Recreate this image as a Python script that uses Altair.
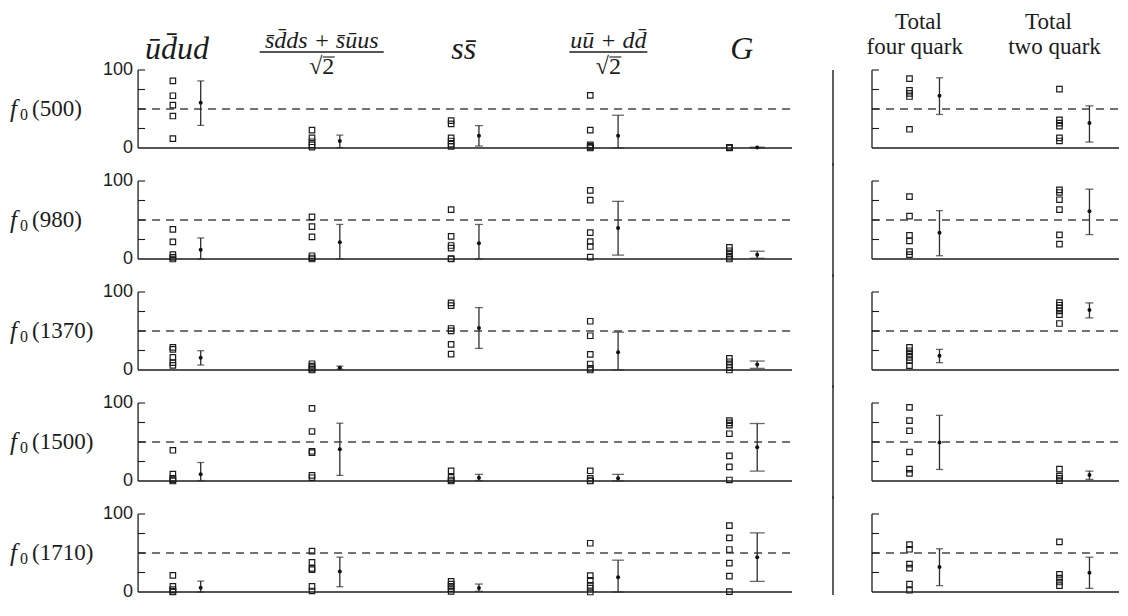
import altair as alt
import pandas as pd

rows = ["500", "980", "1370", "1500", "1710"]

# Open-square values per row, in column order:
# ud, sdds, ss, uudd, G, total four quark, total two quark
sq_500 = [[86, 67, 55, 41, 12], [23, 13, 8, 4, 1], [35, 31, 13, 9, 5, 2],
          [67.5, 23, 4, 2, 1, 0], [1, 0.5, 0], [89, 74, 70, 66, 24],
          [75.5, 36, 32, 28, 13, 9]]
sq_980 = [[38, 22, 5.5, 2, 0], [54, 41.4, 28.3, 4.2, 1.3, 0], [63.3, 29, 17.3, 13.9, 0.4, 0],
          [88, 75.4, 33.8, 22.4, 16, 2.5], [14.8, 10.6, 6.3, 2.2, 0],
          [80, 55, 30.4, 23.3, 9.4, 5.5], [88.6, 85.3, 76, 63.3, 30.9, 19]]
sq_1370 = [[29, 26.4, 16.2, 9.4, 6], [8, 5, 3, 1, 0], [86, 82.5, 53.2, 50.2, 32.8, 20.4],
           [62.5, 43.9, 20, 7.7, 2, 0], [15, 10.6, 6.4, 3, 0],
           [29, 24.7, 20.4, 16.2, 12, 5.6], [86.4, 83, 79.6, 75.8, 71, 59.6]]
sq_1500 = [[39.4, 8.9, 3.4, 1.3, 0], [93.2, 63.5, 38.1, 36.4, 7.2, 4.2], [13.1, 4.7, 1.3, 0],
           [13.1, 3.5, 0.6, 0], [77.5, 74.6, 71.6, 60.6, 32.2, 18.2, 1.3],
           [94.4, 77.5, 64.4, 37.2, 15.2, 9.8], [15.2, 6.3, 3.4, 0.4]]
sq_1710 = [[21.3, 7.3, 3, 0.9, 0], [52.3, 37.9, 30.2, 28.6, 7.3, 1.3], [13.6, 10.2, 7.3, 4.3, 0.9],
           [62.5, 20.9, 14.9, 8.5, 5.1, 0], [85, 69.4, 54.5, 37, 20.4, 0.5],
           [60.8, 54.8, 35.7, 30.6, 10.2, 2.2], [64.3, 22.6, 17.9, 12.8, 8.2]]

# Mean with error bar per row: (mean, low, high)
err_500 = [(58, 29, 86), (9, 0.5, 16.5), (15.6, 2.5, 28.7), (15.6, 0, 42), (0.5, 0, 1),
           (67, 43, 90), (32, 7.6, 54)]
err_980 = [(11.8, 0, 27), (21.5, 0, 44.3), (20.3, 0, 44.3), (39.7, 5, 73.9), (5.5, 0.9, 10),
           (33.8, 4.2, 62), (61.3, 31.3, 89.5)]
err_1370 = [(15.7, 6.4, 24.7), (3, 1, 5), (54, 27.7, 80), (22.6, 0, 48.5), (7.2, 2.1, 11.5),
            (18.3, 9.4, 26.4), (77, 66.8, 86)]
err_1500 = [(8.5, 0.6, 23.7), (40.7, 7.2, 74.1), (4.2, 0.6, 8.5), (3.4, 0, 8.5), (43.2, 12.7, 73.7),
            (49.2, 14.8, 84.2), (7.6, 2.1, 12.7)]
err_1710 = [(5.5, 0, 14), (26.4, 6.8, 44.7), (5.1, 0.9, 10.2), (18.8, 0, 40.8), (44.6, 13.6, 75.8),
            (31.9, 8.2, 55.4), (24.7, 4.7, 44.6)]

SQ = dict(zip(rows, [sq_500, sq_980, sq_1370, sq_1500, sq_1710]))
ERR = dict(zip(rows, [err_500, err_980, err_1370, err_1500, err_1710]))

y_ticks = [25, 50, 75, 100]
y_labels = [0, 100]

plain_headers = [(0, "u\u0304d\u0304ud", 0.28), (2, "ss\u0304", 0.34), (4, "G", 0.34)]
frac_headers = [(1, "s\u0304d\u0304ds + s\u0304u\u0304us", 0.32, 124), (3, "uu\u0304 + dd\u0304", 0.38, 78)]
right_headers = [(0, "Total", "four quark", 0.31, 0.285), (1, "Total", "two quark", 0.177, 0.217)]

# ---- style / layout ----
LW, RW, H = 784, 307, 78
L_DOM = [-0.935, 4.7]
R_DOM = [-0.4, 1.647]
SQ_OFF, EB_OFF = 0.25, 0.45
CAP_PX = [7, 7, 8, 12, 15, 7, 8]
SERIF = "Liberation Serif"
SANS = "Liberation Sans"
INK = "#1c1c1c"
BAR = "#2e2e2e"
DASH = "#444444"
ROW_GAP = 33


def panel(ri, side):
    r = rows[ri]
    if side == "L":
        idx, dom, W = [0, 1, 2, 3, 4], L_DOM, LW
    else:
        idx, dom, W = [5, 6], R_DOM, RW
    ppu = W / (dom[1] - dom[0])
    xs = alt.Scale(domain=dom, nice=False, zero=False)
    ys = alt.Scale(domain=[0, 100], nice=False, zero=False)

    def X(f):
        return alt.X(f"{f}:Q", scale=xs, axis=None)

    def Y(f):
        return alt.Y(f"{f}:Q", scale=ys, axis=None)

    sq = pd.DataFrame([{"x": k + SQ_OFF, "y": v} for k, i in enumerate(idx) for v in SQ[r][i]])
    eb = pd.DataFrame([{"x": k + EB_OFF, "m": ERR[r][i][0], "lo": ERR[r][i][1],
                        "hi": ERR[r][i][2], "cap": CAP_PX[i]} for k, i in enumerate(idx)])
    frame = pd.DataFrame({"x0": [0.0], "x1": [dom[1]], "y0": [0], "y50": [50], "y100": [100]})
    tk = pd.DataFrame({"x0": 0.0, "y": y_ticks})

    layers = [
        alt.Chart(frame).mark_rule(color=DASH, strokeWidth=1.4, strokeDash=[8, 6]).encode(
            x=X("x0"), x2="x1", y=Y("y50")),
        alt.Chart(frame).mark_rule(color=INK, strokeWidth=1.3).encode(x=X("x0"), x2="x1", y=Y("y0")),
        alt.Chart(frame).mark_rule(color=INK, strokeWidth=1.3).encode(x=X("x0"), y=Y("y0"), y2="y100"),
        alt.Chart(tk).mark_rule(color=INK, strokeWidth=1.1, x2Offset=7).encode(
            x=X("x0"), x2="x0", y=Y("y")),
        alt.Chart(sq).mark_point(shape="square", filled=False, size=30, color=INK,
                                 strokeWidth=1.2, opacity=1).encode(x=X("x"), y=Y("y")),
        alt.Chart(eb).mark_rule(color=BAR, strokeWidth=1.3).encode(x=X("x"), y=Y("lo"), y2="hi"),
        alt.Chart(eb).mark_tick(orient="horizontal", thickness=1.3, color=BAR).encode(
            x=X("x"), y=Y("lo"), size=alt.Size("cap:Q", scale=None)),
        alt.Chart(eb).mark_tick(orient="horizontal", thickness=1.3, color=BAR).encode(
            x=X("x"), y=Y("hi"), size=alt.Size("cap:Q", scale=None)),
        alt.Chart(eb).mark_circle(size=16, color="#111", opacity=1).encode(x=X("x"), y=Y("m")),
    ]

    if side == "L":
        lab = pd.DataFrame({"x0": 0.0, "v": y_labels})
        layers.append(alt.Chart(lab).mark_text(align="right", baseline="middle", dx=-5,
                                               font=SANS, fontSize=18, color=INK).encode(
            x=X("x0"), y=Y("v"), text=alt.Text("v:Q", format="d")))
        rl = pd.DataFrame({"x0": [0.0], "y50": [50], "f": ["f"], "s": ["0"], "p": [f"({r})"]})
        layers += [
            alt.Chart(rl).mark_text(align="left", baseline="middle", dx=-128, font=SERIF,
                                    fontStyle="italic", fontSize=25, color=INK).encode(
                x=X("x0"), y=Y("y50"), text="f:N"),
            alt.Chart(rl).mark_text(align="left", baseline="middle", dx=-118, dy=6, font=SERIF,
                                    fontSize=16, color=INK).encode(
                x=X("x0"), y=Y("y50"), text="s:N"),
            alt.Chart(rl).mark_text(align="left", baseline="middle", dx=-106, font=SERIF,
                                    fontSize=23, color=INK).encode(
                x=X("x0"), y=Y("y50"), text="p:N"),
        ]
        if ri == 0:
            ph = pd.DataFrame([{"hx": c + o, "t": t} for c, t, o in plain_headers])
            layers.append(alt.Chart(ph).mark_text(align="center", baseline="alphabetic", font=SERIF,
                                                  fontStyle="italic", fontSize=32, color=INK).encode(
                x=X("hx"), y=alt.value(-11), text="t:N"))
            fh = pd.DataFrame([{"hx": c + o, "t": t, "a": c + o - w / 2 / ppu, "b": c + o + w / 2 / ppu,
                                "r": "\u221a2"} for c, t, o, w in frac_headers])
            layers += [
                alt.Chart(fh).mark_text(align="center", baseline="alphabetic", font=SERIF,
                                        fontStyle="italic", fontSize=24, color=INK).encode(
                    x=X("hx"), y=alt.value(-22), text="t:N"),
                alt.Chart(fh).mark_rule(color=INK, strokeWidth=1.4).encode(
                    x=X("a"), x2="b", y=alt.value(-18)),
                alt.Chart(fh).mark_text(align="center", baseline="alphabetic", font=SERIF,
                                        fontSize=24, color=INK).encode(
                    x=X("hx"), y=alt.value(4), text="r:N"),
                alt.Chart(fh).mark_rule(color=INK, strokeWidth=1.1, xOffset=1, x2Offset=13).encode(
                    x=X("hx"), x2="hx", y=alt.value(-13)),
            ]
    else:
        half = ROW_GAP / 2 + 1
        sep_top = 0 if ri == 0 else -half
        sep_bot = H + 3 if ri == len(rows) - 1 else H + half
        sp = pd.DataFrame({"sx": [-0.26]})
        layers.append(alt.Chart(sp).mark_rule(color=INK, strokeWidth=1.4).encode(
            x=X("sx"), y=alt.value(sep_top), y2=alt.value(sep_bot)))
        if ri == 0:
            rh = pd.DataFrame([{"h1": c + o1, "h2": c + o2, "t1": a, "t2": b}
                               for c, a, b, o1, o2 in right_headers])
            layers += [
                alt.Chart(rh).mark_text(align="center", baseline="alphabetic", font=SERIF,
                                        fontSize=23, color=INK).encode(
                    x=X("h1"), y=alt.value(-41), text="t1:N"),
                alt.Chart(rh).mark_text(align="center", baseline="alphabetic", font=SERIF,
                                        fontSize=23, color=INK).encode(
                    x=X("h2"), y=alt.value(-16), text="t2:N"),
            ]
    return alt.layer(*layers).properties(width=W, height=H)


panels = []
for ri in range(len(rows)):
    panels.append(panel(ri, "L"))
    panels.append(panel(ri, "R"))

chart = alt.concat(*panels, columns=2, spacing={"row": ROW_GAP, "column": 20}, bounds="flush").properties(
    padding={"left": 0, "top": 3, "right": 0, "bottom": 0}
).configure_view(strokeWidth=0)

chart.save("out.html", embed_options={"renderer": "svg", "actions": False})
